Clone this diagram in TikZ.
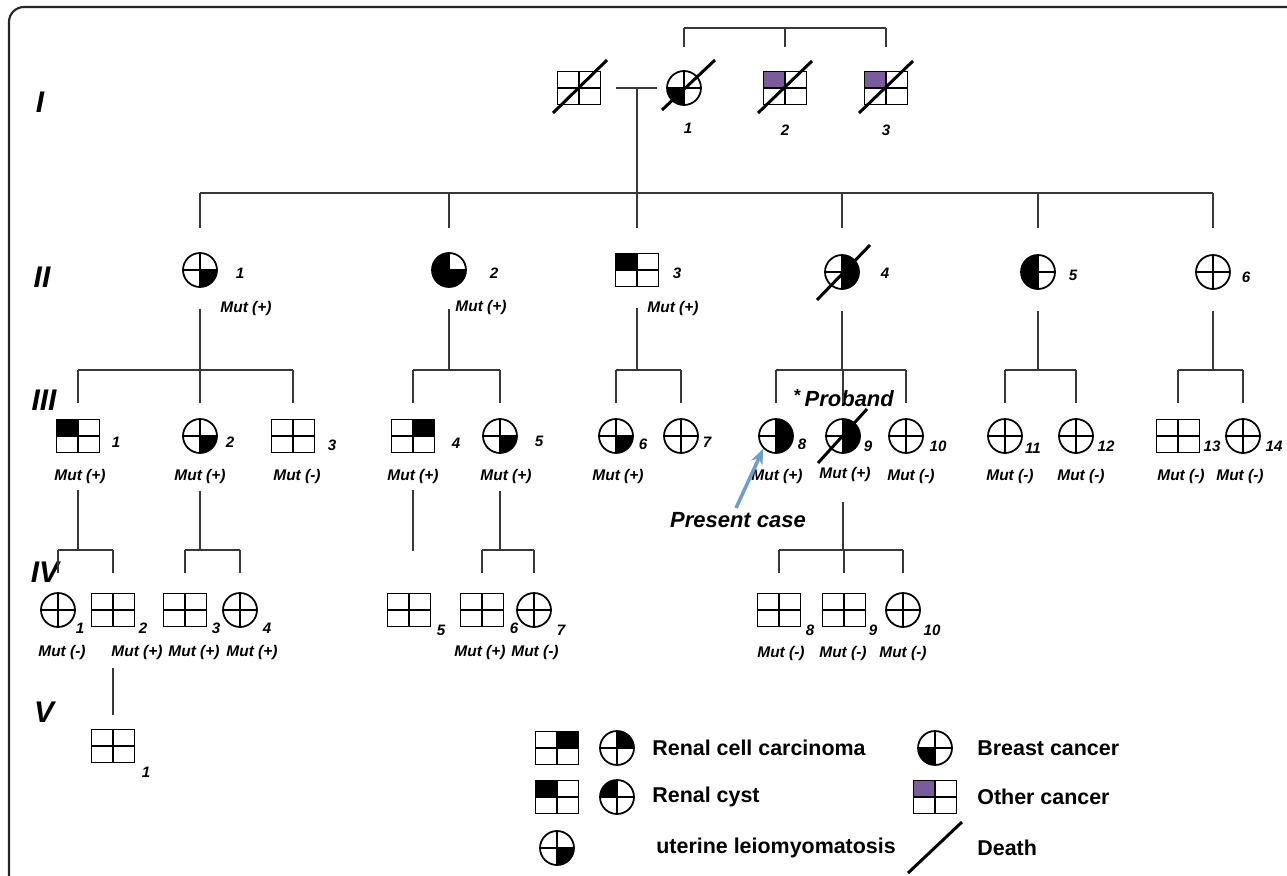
\documentclass[tikz,border=0pt]{standalone}
\usepackage{fontspec}
\setmainfont{Liberation Sans}
\usetikzlibrary{calc,arrows.meta}

\definecolor{otherca}{RGB}{122,92,156}
\definecolor{linkgray}{RGB}{55,55,55}
\definecolor{casearrow}{RGB}{110,158,208}

\def\pedq{}
\tikzset{
  quads/.code={\def\pedq{#1}},
  person/.style={draw, fill=white, line width=1pt, inner sep=0pt,
    path picture={
      \ifx\pedq\empty\else
        \foreach \a/\c in \pedq {\fill[\c] (path picture bounding box.center) rectangle (path picture bounding box.\a);}
      \fi
      \draw[line width=1pt] (path picture bounding box.north) -- (path picture bounding box.south)
        (path picture bounding box.west) -- (path picture bounding box.east);}},
  male/.style={person, rectangle, minimum width=0.86cm, minimum height=0.66cm},
  female/.style={person, circle, minimum size=0.68cm},
  link/.style={draw=linkgray, line width=0.85pt},
  deathline/.style={draw=black, line width=1.7pt},
  num/.style={font=\fontsize{8.6}{10}\selectfont\bfseries\itshape, inner sep=0pt},
  mut/.style={font=\fontsize{8.8}{10}\selectfont\bfseries\itshape, inner sep=0pt},
  gen/.style={font=\fontsize{17}{20}\selectfont\bfseries\itshape, inner sep=0pt},
  note/.style={font=\fontsize{12.5}{14}\selectfont\bfseries\itshape, inner sep=0pt},
  keytext/.style={font=\fontsize{12.2}{14}\selectfont\bfseries, anchor=west, inner sep=0pt},
}

\begin{document}
\begin{tikzpicture}[x=0.02cm, y=-0.02cm]
  \useasboundingbox (0,0) rectangle (1287,875);
  \draw[line width=1.2pt, draw=black!85, rounded corners=0.3cm] (9,890) -- (9,7) -- (1300,7);

  % generation labels
  \node[gen] (g1) at (40,102) {I};
  \node[gen] (g2) at (42,277) {II};
  \node[gen] (g3) at (44,400) {III};
  \node[gen] (g4) at (45,572) {IV};
  \node[gen] (g5) at (44,712) {V};

  % generation I
  \node[male]                                (i0) at (579,88) {};
  \node[female, quads={south west/black}]    (i1) at (684,88) {};
  \node[male, quads={north west/otherca}]    (i2) at (785,88) {};
  \node[male, quads={north west/otherca}]    (i3) at (886,88) {};
  \node[num] (i1n) at (688,128) {1};
  \node[num] (i2n) at (785,130) {2};
  \node[num] (i3n) at (886,130) {3};
  \draw[deathline] ([shift={(-26,25)}]i0.center) -- ([shift={(28,-28)}]i0.center);
  \draw[deathline] ([shift={(-22,22)}]i1.center) -- ([shift={(31,-28)}]i1.center);
  \draw[deathline] ([shift={(-27,25)}]i2.center) -- ([shift={(27,-27)}]i2.center);
  \draw[deathline] ([shift={(-27,25)}]i3.center) -- ([shift={(27,-27)}]i3.center);

  \coordinate (bar1) at (0,28);
  \draw[link] (i1 |- bar1) -- (i3 |- bar1);
  \foreach \p in {i1,i2,i3} \draw[link] (\p |- bar1) -- ++(0,19);
  \draw[link, shorten <=0.3cm, shorten >=0.18cm] (i0) -- (i1);
  \coordinate (mate) at (637,88);

  % generation II
  \node[female, quads={south east/black}]                                (ii1) at (200,270) {};
  \node[female, quads={north west/black,south west/black,south east/black}] (ii2) at (449,270) {};
  \node[male, quads={north west/black}]                                  (ii3) at (637,270) {};
  \node[female, quads={north east/black,south east/black}]               (ii4) at (842,272) {};
  \node[female, quads={north west/black,south west/black}]               (ii5) at (1038,272) {};
  \node[female]                                                          (ii6) at (1213,272) {};
  \node[num] (ii1n) at (240,273) {1};
  \node[num] (ii2n) at (494,273) {2};
  \node[num] (ii3n) at (677,273) {3};
  \node[num] (ii4n) at (885,273) {4};
  \node[num] (ii5n) at (1073,275) {5};
  \node[num] (ii6n) at (1246,277) {6};
  \node[mut] (ii1m) at (246,308) {Mut (+)};
  \node[mut] (ii2m) at (481,307) {Mut (+)};
  \node[mut] (ii3m) at (673,308) {Mut (+)};
  \draw[deathline] ([shift={(-25,28)}]ii4.center) -- ([shift={(28,-27)}]ii4.center);

  \coordinate (bar2) at (0,193);
  \draw[link] (mate) -- (mate |- bar2);
  \draw[link] (ii1 |- bar2) -- (ii6 |- bar2);
  \foreach \p in {ii1,ii2,ii3,ii4,ii5,ii6} \draw[link] (\p |- bar2) -- ++(0,35);

  % generation III
  \node[male, quads={north west/black}]                     (iii1)  at (78,436) {};
  \node[female, quads={south east/black}]                   (iii2)  at (200,436) {};
  \node[male]                                               (iii3)  at (293,436) {};
  \node[male, quads={north east/black}]                     (iii4)  at (413,436) {};
  \node[female, quads={south east/black}]                   (iii5)  at (500,436) {};
  \node[female, quads={south east/black}]                   (iii6)  at (616,436) {};
  \node[female]                                             (iii7)  at (681,436) {};
  \node[female, quads={north east/black,south east/black}]  (iii8)  at (776,436) {};
  \node[female, quads={north east/black,south east/black}]  (iii9)  at (843,436) {};
  \node[female]                                             (iii10) at (906,436) {};
  \node[female]                                             (iii11) at (1005,436) {};
  \node[female]                                             (iii12) at (1076,436) {};
  \node[male]                                               (iii13) at (1178,436) {};
  \node[female]                                             (iii14) at (1243,436) {};
  \draw[deathline] ([shift={(-25,27)}]iii9.center) -- ([shift={(24,-27)}]iii9.center);

  \node[num] (iii1n)  at (116,442) {1};
  \node[num] (iii2n)  at (230,442) {2};
  \node[num] (iii3n)  at (332,445) {3};
  \node[num] (iii4n)  at (456,443) {4};
  \node[num] (iii5n)  at (539,441) {5};
  \node[num] (iii6n)  at (643,444) {6};
  \node[num] (iii7n)  at (707,442) {7};
  \node[num] (iii8n)  at (802,444) {8};
  \node[num] (iii9n)  at (868,446) {9};
  \node[num] (iii10n) at (938,446) {10};
  \node[num] (iii11n) at (1033,448) {11};
  \node[num] (iii12n) at (1106,446) {12};
  \node[num] (iii13n) at (1212,446) {13};
  \node[num] (iii14n) at (1274,446) {14};

  \node[mut] (iii1m)  at (80,476) {Mut (+)};
  \node[mut] (iii2m)  at (200,476) {Mut (+)};
  \node[mut] (iii3m)  at (297,476) {Mut (-)};
  \node[mut] (iii4m)  at (413,476) {Mut (+)};
  \node[mut] (iii5m)  at (506,476) {Mut (+)};
  \node[mut] (iii6m)  at (618,476) {Mut (+)};
  \node[mut] (iii8m)  at (777,476) {Mut (+)};
  \node[mut] (iii9m)  at (845,474) {Mut (+)};
  \node[mut] (iii10m) at (911,476) {Mut (-)};
  \node[mut] (iii11m) at (1010,476) {Mut (-)};
  \node[mut] (iii12m) at (1081,476) {Mut (-)};
  \node[mut] (iii13m) at (1181,476) {Mut (-)};
  \node[mut] (iii14m) at (1240,476) {Mut (-)};

  \node[note] (prob) at (844,398) {\raisebox{3pt}{\fontsize{10}{10}\selectfont\upshape *}\,Proband};
  \node[note] (pc) at (738,520) {Present case};
  \draw[draw=casearrow, line width=2pt, -{Stealth[length=9pt,width=7pt]}] (pc.north) ++(-2,-4) -- (iii8.south west);

  \coordinate (bar3) at (0,370);
  \foreach \p in {ii1,ii2,ii3,ii4,ii5,ii6} \draw[link] (\p.south) ++(0,21) -- (\p |- bar3);
  \draw[link] (iii1 |- bar3) -- (iii3 |- bar3);
  \draw[link] (iii4 |- bar3) -- (iii5 |- bar3);
  \draw[link] (iii6 |- bar3) -- (iii7 |- bar3);
  \draw[link] (iii8 |- bar3) -- (iii10 |- bar3);
  \draw[link] (iii11 |- bar3) -- (iii12 |- bar3);
  \draw[link] (iii13 |- bar3) -- (iii14 |- bar3);
  \foreach \p in {iii1,iii2,iii3,iii4,iii5,iii6,iii7,iii8,iii9,iii10,iii11,iii12,iii13,iii14}
    \draw[link] (\p |- bar3) -- ++(0,33);

  % generation IV
  \node[female] (iv1)  at (58,610) {};
  \node[male]   (iv2)  at (113,610) {};
  \node[male]   (iv3)  at (185,610) {};
  \node[female] (iv4)  at (240,610) {};
  \node[male]   (iv5)  at (409,610) {};
  \node[male]   (iv6)  at (482,610) {};
  \node[female] (iv7)  at (534,610) {};
  \node[male]   (iv8)  at (779,610) {};
  \node[male]   (iv9)  at (844,610) {};
  \node[female] (iv10) at (903,610) {};

  \node[num] (iv1n)  at (80,628) {1};
  \node[num] (iv2n)  at (143,628) {2};
  \node[num] (iv3n)  at (216,628) {3};
  \node[num] (iv4n)  at (267,628) {4};
  \node[num] (iv5n)  at (441,630) {5};
  \node[num] (iv6n)  at (514,628) {6};
  \node[num] (iv7n)  at (561,630) {7};
  \node[num] (iv8n)  at (810,630) {8};
  \node[num] (iv9n)  at (873,630) {9};
  \node[num] (iv10n) at (932,630) {10};

  \node[mut] (iv1m)  at (62,652) {Mut (-)};
  \node[mut] (iv2m)  at (137,652) {Mut (+)};
  \node[mut] (iv3m)  at (194,652) {Mut (+)};
  \node[mut] (iv4m)  at (252,652) {Mut (+)};
  \node[mut] (iv6m)  at (480,652) {Mut (+)};
  \node[mut] (iv7m)  at (535,652) {Mut (-)};
  \node[mut] (iv8m)  at (781,653) {Mut (-)};
  \node[mut] (iv9m)  at (843,653) {Mut (-)};
  \node[mut] (iv10m) at (903,653) {Mut (-)};

  \coordinate (bar4) at (0,550);
  \foreach \p in {iii1,iii2,iii5} \draw[link] (\p.south) ++(0,37) -- (\p |- bar4);
  \draw[link] (iii4.south) ++(0,37) -- ++(0,61);
  \draw[link] (iii9.south) ++(0,48) -- (iii9 |- bar4);
  \draw[link] (iv1 |- bar4) -- (iv2 |- bar4);
  \draw[link] (iv3 |- bar4) -- (iv4 |- bar4);
  \draw[link] (iv6 |- bar4) -- (iv7 |- bar4);
  \draw[link] (iv8 |- bar4) -- (iv10 |- bar4);
  \foreach \p in {iv1,iv2,iv3,iv4,iv6,iv7,iv8,iv9,iv10}
    \draw[link] (\p |- bar4) -- ++(0,23);

  % generation V
  \node[male] (v1)  at (113,746) {};
  \node[num]  (v1n) at (146,772) {1};
  \draw[link] (iv2.south) ++(0,41) -- ++(0,47);

  % legend
  \node[male, quads={north east/black}]    (k1a) at (557,748) {};
  \node[female, quads={north east/black}]  (k1b) at (617,748) {};
  \node[keytext] (k1t) at (652,748) {Renal cell carcinoma};
  \node[male, quads={north west/black}]    (k2a) at (557,797) {};
  \node[female, quads={north west/black}]  (k2b) at (617,797) {};
  \node[keytext] (k2t) at (652,797) {Renal cyst};
  \node[female, quads={south east/black}]  (k3a) at (557,848) {};
  \node[keytext] (k3t) at (656,848) {uterine leiomyomatosis};
  \node[female, quads={south west/black}]  (k4a) at (935,748) {};
  \node[keytext] (k4t) at (977,748) {Breast cancer};
  \node[male, quads={north west/otherca}]  (k5a) at (935,797) {};
  \node[keytext] (k5t) at (977,797) {Other cancer};
  \coordinate (k6a) at (935,848);
  \draw[deathline] ([shift={(-27,25)}]k6a) -- ([shift={(27,-26)}]k6a);
  \node[keytext] (k6t) at (977,848) {Death};
\end{tikzpicture}
\end{document}
